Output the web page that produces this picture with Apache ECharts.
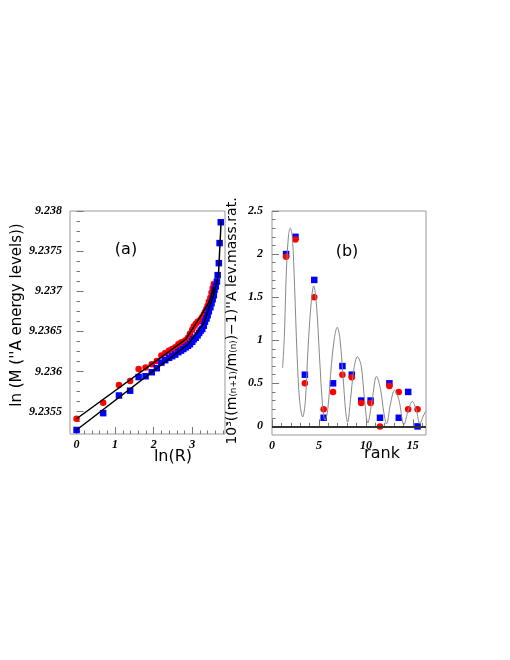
<!DOCTYPE html>
<html>
<head>
<meta charset="utf-8">
<script src="https://cdn.jsdelivr.net/npm/echarts@6/dist/echarts.min.js"></script>
<style>
  html, body { margin: 0; padding: 0; background: #fff; }
  #chart { width: 510px; height: 660px; }
</style>
</head>
<body>
<div id="chart"></div>
<script>
// panel (a): ln(R) against ln M
const lnR = [0, 0.69, 1.10, 1.39, 1.61, 1.79, 1.95, 2.08, 2.20, 2.30, 2.40, 2.48, 2.56, 2.64, 2.71,
  2.77, 2.83, 2.89, 2.94, 3.00, 3.04, 3.09, 3.14, 3.18, 3.22, 3.26, 3.30, 3.33, 3.37, 3.40,
  3.43, 3.47, 3.50, 3.53, 3.56, 3.58, 3.61, 3.64, 3.66, 3.69, 3.71, 3.74]
const redMass = [9.23541, 9.23561, 9.23583, 9.23588, 9.23603, 9.23605, 9.23609, 9.23613, 9.23620, 9.23623,
  9.23626, 9.23628, 9.23630, 9.23634, 9.23636, 9.23637, 9.23639, 9.23642, 9.23647, 9.23652,
  9.23656, 9.23659, 9.23662, 9.23663, 9.23665, 9.23668, 9.23671, 9.23674, 9.23678, 9.23682,
  9.23687, 9.23692, 9.23698, 9.23704, 9.23709]
const blueMass = [9.23527, 9.23548, 9.23570, 9.23576, 9.23593, 9.23594, 9.23599, 9.23604, 9.23611, 9.23614,
  9.23617, 9.23619, 9.23621, 9.23624, 9.23626, 9.23628, 9.23630, 9.23632, 9.23634, 9.23637,
  9.23640, 9.23642, 9.23645, 9.23648, 9.23651, 9.23653, 9.23657, 9.23662, 9.23666, 9.23670,
  9.23675, 9.23680, 9.23685, 9.23690, 9.23695, 9.23702, 9.23706, 9.23712, 9.23720, 9.23735,
  9.23760, 9.23786]
const redFit = [[0, 9.23541], [2.83, 9.23640], [3.22, 9.23669], [3.45, 9.23688], [3.57, 9.23706]]
const blueFit = [[0, 9.23527], [2.9, 9.23634], [3.3, 9.23660], [3.55, 9.23695], [3.68, 9.23720], [3.75, 9.23788]]

// panel (b): mass ratio against rank
const rankHalf = [1.5, 2.5, 3.5, 4.5, 5.5, 6.5, 7.5, 8.5, 9.5, 10.5, 11.5, 12.5, 13.5, 14.5, 15.5]
const redRatio = [1.97, 2.17, 0.50, 1.50, 0.20, 0.40, 0.60, 0.57, 0.27, 0.27, 0.00, 0.47, 0.40, 0.20, 0.20]
const blueRatio = [2.00, 2.20, 0.60, 1.70, 0.10, 0.50, 0.70, 0.60, 0.30, 0.30, 0.10, 0.50, 0.10, 0.40, 0.00]
const waveCurve = [[1.13, 0.68], [1.31, 1.03], [1.53, 1.80], [1.77, 2.23], [1.95, 2.30], [2.17, 2.19],
  [2.41, 1.61], [2.67, 0.83], [2.95, 0.29], [3.27, 0.11], [3.55, 0.29], [3.84, 0.91], [4.16, 1.42],
  [4.44, 1.63], [4.73, 1.42], [5.05, 0.83], [5.38, 0.25], [5.65, 0.07], [5.94, 0.20], [6.33, 0.72],
  [6.65, 1.03], [6.94, 1.15], [7.22, 1.03], [7.55, 0.60], [7.85, 0.17], [8.05, 0.05], [8.36, 0.31],
  [8.71, 0.66], [9.10, 0.81], [9.50, 0.70], [9.85, 0.31], [10.20, 0.04], [10.67, 0.31], [11.13, 0.58],
  [11.56, 0.43], [11.91, 0.16], [12.20, 0.03], [12.63, 0.27], [13.05, 0.42], [13.51, 0.31],
  [14.05, 0.02], [14.52, 0.19], [14.94, 0.29], [15.37, 0.19], [15.75, 0.03], [16.10, 0.12], [16.40, 0.18]]

// tick lists
const aXMajor = [0, 1, 2, 3]
const aXMinor = [-0.2, 0.2, 0.4, 0.6, 0.8, 1.2, 1.4, 1.6, 1.8, 2.2, 2.4, 2.6, 2.8, 3.2, 3.4, 3.6, 3.8]
const aYMajor = [9.2355, 9.236, 9.2365, 9.237, 9.2375, 9.238]
const aYMinor = [9.23525, 9.235375, 9.235625, 9.23575, 9.235875, 9.236125, 9.23625, 9.236375,
  9.236625, 9.23675, 9.236875, 9.237125, 9.23725, 9.237375, 9.237625, 9.23775, 9.237875]
const bXMajor = [0, 5, 10, 15]
const bXMinor = [1, 2, 3, 4, 6, 7, 8, 9, 11, 12, 13, 14, 16]
const bYMajor = [0, 0.5, 1, 1.5, 2, 2.5]
const bYMinor = [0.1, 0.2, 0.3, 0.4, 0.6, 0.7, 0.8, 0.9, 1.1, 1.2, 1.3, 1.4, 1.6, 1.7, 1.8, 1.9,
  2.1, 2.2, 2.3, 2.4]

const zip = (xs, ys) => ys.map((y, i) => [xs[i], y])

const tickColor = '#777'
const numFont = {
  color: '#000',
  fontFamily: 'Liberation Serif',
  fontStyle: 'italic',
  fontWeight: 'bold',
  fontSize: 12
}
const titleFont = { fill: '#000', fontFamily: 'DejaVu Sans', fontSize: 16 }

const valAxis = (grid, min, max, major, minor, pos, isMajor, margin) => ({
  type: 'value',
  gridIndex: grid,
  position: pos,
  min: min,
  max: max,
  axisLine: { show: false },
  splitLine: { show: false },
  axisTick: {
    inside: true,
    length: isMajor ? 7 : 3.5,
    customValues: isMajor ? major : minor,
    lineStyle: { color: tickColor, width: 1 }
  },
  axisLabel: isMajor
    ? Object.assign({ customValues: major, margin: margin }, numFont)
    : { show: false }
})

const chart = echarts.init(document.getElementById('chart'), null, { renderer: 'canvas' })

chart.setOption({
  animation: false,
  backgroundColor: '#fff',
  grid: [
    { left: 70, top: 211, width: 155, height: 223, show: true, borderColor: '#999', borderWidth: 1 },
    { left: 272, top: 211, width: 154, height: 224, show: true, borderColor: '#999', borderWidth: 1 }
  ],
  xAxis: [
    valAxis(0, -0.17, 3.85, aXMajor, aXMinor, 'bottom', true, 5),
    valAxis(0, -0.17, 3.85, aXMajor, aXMinor, 'bottom', false),
    valAxis(1, 0, 16.4, bXMajor, bXMinor, 'bottom', true, 5),
    valAxis(1, 0, 16.4, bXMajor, bXMinor, 'bottom', false)
  ],
  yAxis: [
    valAxis(0, 9.23522, 9.238, aYMajor, aYMinor, 'left', true, 8),
    valAxis(0, 9.23522, 9.238, aYMajor, aYMinor, 'left', false),
    valAxis(1, -0.1, 2.5, bYMajor, bYMinor, 'left', true, 9),
    valAxis(1, -0.1, 2.5, bYMajor, bYMinor, 'left', false)
  ],
  series: [
    {
      type: 'scatter', xAxisIndex: 0, yAxisIndex: 0,
      symbol: 'circle', symbolSize: 6.5,
      itemStyle: { color: '#ff0000', opacity: 1 },
      data: zip(lnR, redMass)
    },
    {
      type: 'scatter', xAxisIndex: 0, yAxisIndex: 0,
      symbol: 'rect', symbolSize: 6.5,
      itemStyle: { color: '#0000ff', opacity: 1 },
      data: zip(lnR, blueMass)
    },
    {
      type: 'line', xAxisIndex: 0, yAxisIndex: 0, symbol: 'none',
      lineStyle: { color: '#000', width: 1.5 },
      data: redFit
    },
    {
      type: 'line', xAxisIndex: 0, yAxisIndex: 0, symbol: 'none',
      lineStyle: { color: '#000', width: 1.5 },
      data: blueFit
    },
    {
      type: 'line', xAxisIndex: 2, yAxisIndex: 2, symbol: 'none', smooth: 0.35,
      lineStyle: { color: '#888', width: 1 },
      data: waveCurve,
      markLine: {
        silent: true, symbol: 'none', label: { show: false },
        lineStyle: { color: '#333', width: 2, type: 'solid' },
        data: [{ yAxis: 0 }]
      }
    },
    {
      type: 'scatter', xAxisIndex: 2, yAxisIndex: 2,
      symbol: 'rect', symbolSize: 6.5,
      itemStyle: { color: '#0000ff', opacity: 1 },
      data: zip(rankHalf, blueRatio)
    },
    {
      type: 'scatter', xAxisIndex: 2, yAxisIndex: 2,
      symbol: 'circle', symbolSize: 6.5,
      itemStyle: { color: '#ff0000', opacity: 1 },
      data: zip(rankHalf, redRatio)
    }
  ],
  graphic: [
    { type: 'text', x: 126, y: 250, style: Object.assign({ text: '(a)', textAlign: 'center', textVerticalAlign: 'middle' }, titleFont) },
    { type: 'text', x: 347, y: 252, style: Object.assign({ text: '(b)', textAlign: 'center', textVerticalAlign: 'middle' }, titleFont) },
    { type: 'text', x: 173, y: 457, style: Object.assign({ text: 'ln(R)', textAlign: 'center', textVerticalAlign: 'middle' }, titleFont) },
    { type: 'text', x: 382, y: 454, style: Object.assign({ text: 'rank', textAlign: 'center', textVerticalAlign: 'middle' }, titleFont) },
    {
      type: 'text', x: 17, y: 315, rotation: Math.PI / 2,
      style: Object.assign({ text: "ln (M (''A energy levels))", textAlign: 'center', textVerticalAlign: 'middle' }, titleFont, { fontSize: 15 })
    },
    {
      type: 'text', x: 232, y: 321, rotation: Math.PI / 2,
      style: Object.assign({ text: "10³((m₍ₙ₊₁₎/m₍ₙ₎)−1)''A lev.mass.rat.", textAlign: 'center', textVerticalAlign: 'middle' }, titleFont, { fontSize: 14 })
    }
  ]
})
</script>
</body>
</html>
